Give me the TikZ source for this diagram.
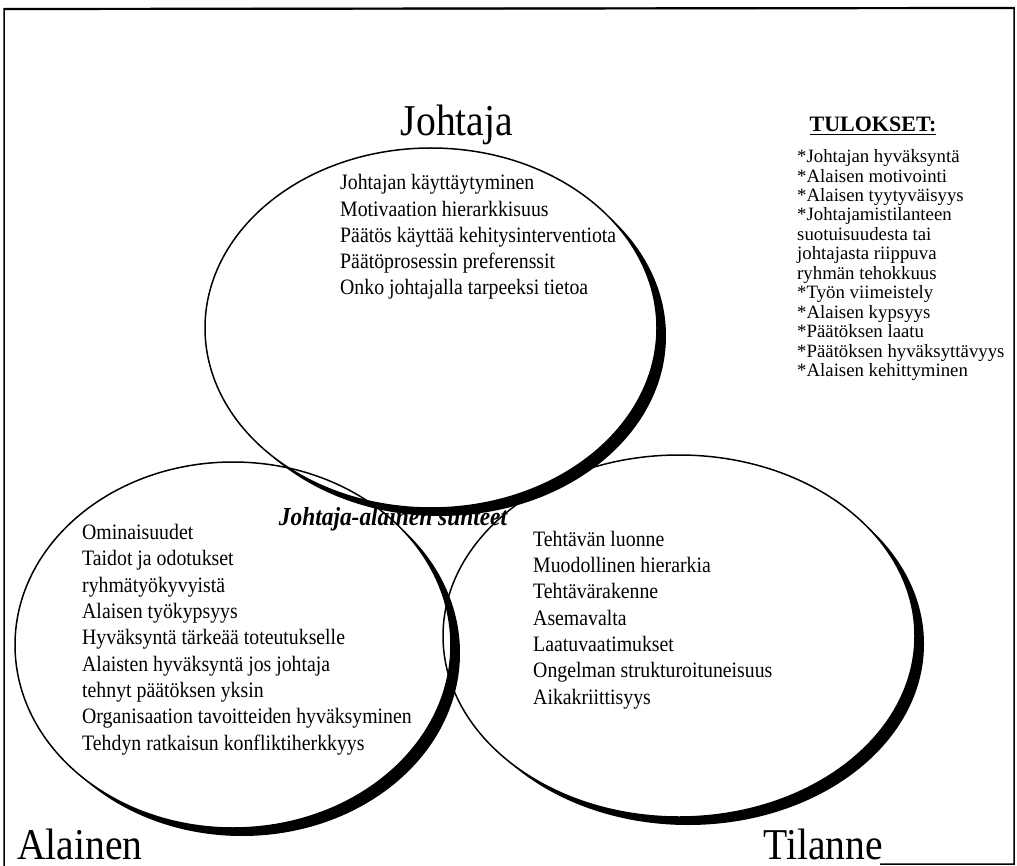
\documentclass[tikz,border=0pt]{standalone}
\usepackage{fontspec}
\setmainfont{Liberation Serif}[FakeStretch=0.9]
\newfontfamily\plainserif{Liberation Serif}
\usetikzlibrary{shapes.geometric,positioning}

\begin{document}
\begin{tikzpicture}[x=1pt,y=-1pt,
  ring/.style={ellipse, draw, line width=1.5pt, inner sep=0pt},
  items/.style={align=left, anchor=base west, inner sep=0pt, font=\fontsize{22}{26.3}\selectfont},
  title/.style={inner sep=0pt, font=\fontsize{44}{50}\selectfont}]
\useasboundingbox (0,0) rectangle (1017,866);
\draw[line width=1.5pt] (880,864) -- (1014,864) -- (1014,8) -- (4,9) -- (4,866);
\draw[line width=2.2pt] (4,9) -- (1014,8);

\foreach \n/\cx/\cy/\w/\h in {johtaja/431/328/452/360, alainen/233/645/436/366, tilanne/679/636/472/362} {
  \begin{scope}[even odd rule]
    \clip (0,0) rectangle (1017,866) (\cx,\cy) ellipse [x radius=\w/2, y radius=\h/2];
    \fill (\cx+9,\cy+8) ellipse [x radius=\w/2, y radius=\h/2];
  \end{scope}
  \node[ring, minimum width=\w, minimum height=\h] (\n) at (\cx,\cy) {};
}

\node[title, above=2pt of johtaja.north, xshift=26pt] (jlabel) {Johtaja};
\node[title, anchor=base west] (alabel) at (17,859) {Alainen};
\node[title, anchor=base west] (tlabel) at (763,859) {Tilanne};

\node[items] (jitems) at (340,295) {Johtajan käyttäytyminen\\ Motivaation hierarkkisuus\\
  Päätös käyttää kehitysinterventiota\\ Päätöprosessin preferenssit\\ Onko johtajalla tarpeeksi tietoa};
\node[items] (aitems) at (82,750) {Ominaisuudet\\ Taidot ja odotukset\\ ryhmätyökyvyistä\\
  Alaisen työkypsyys\\ Hyväksyntä tärkeää toteutukselle\\ Alaisten hyväksyntä jos johtaja\\
  tehnyt päätöksen yksin\\ Organisaation tavoitteiden hyväksyminen\\ Tehdyn ratkaisun konfliktiherkkyys};
\node[items] (titems) at (533,704) {Tehtävän luonne\\ Muodollinen hierarkia\\ Tehtävärakenne\\
  Asemavalta\\ Laatuvaatimukset\\ Ongelman strukturoituneisuus\\ Aikakriittisyys};

\node[inner sep=0pt, anchor=base, font=\fontsize{26}{30}\selectfont\bfseries\itshape] (suhteet) at (393,525) {Johtaja-alainen suhteet};

\node[inner sep=0pt, anchor=base, font=\plainserif\fontsize{22}{26}\selectfont\bfseries] (tulokset) at (873,132) {\underline{TULOKSET:}};
\node[items, font=\plainserif\fontsize{18.8}{19.5}\selectfont] (titems2) at (797,377) {*Johtajan hyväksyntä\\
  *Alaisen motivointi\\ *Alaisen tyytyväisyys\\ *Johtajamistilanteen\\ suotuisuudesta tai\\
  johtajasta riippuva\\ ryhmän tehokkuus\\ *Työn viimeistely\\ *Alaisen kypsyys\\
  *Päätöksen laatu\\ *Päätöksen hyväksyttävyys\\ *Alaisen kehittyminen};
\end{tikzpicture}
\end{document}
